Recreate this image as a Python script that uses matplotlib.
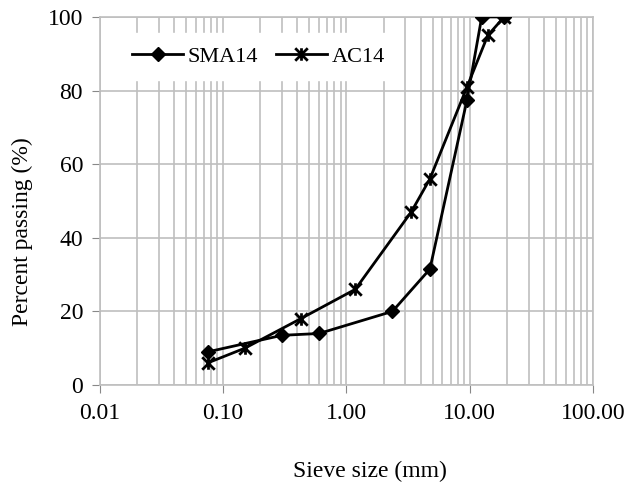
import matplotlib
matplotlib.use('Agg')
import matplotlib.pyplot as plt
from matplotlib.path import Path
from matplotlib.ticker import FixedLocator, FuncFormatter, NullFormatter

plt.rcParams['font.family'] = ['Liberation Serif', 'DejaVu Serif']

# sieve sizes (mm) and percent passing
sma_size = [0.075, 0.3, 0.6, 2.36, 4.75, 9.5, 12.5, 19]
sma_pass = [9, 13.5, 14, 20, 31.5, 77.5, 100, 100]
ac_size = [0.075, 0.15, 0.425, 1.18, 3.35, 4.75, 9.5, 14, 19]
ac_pass = [6, 10, 18, 26, 47, 56, 81, 95, 100]

x_ticks = [0.01, 0.1, 1, 10, 100]
y_ticks = [0, 20, 40, 60, 80, 100]

# excel style star: an x with a vertical bar through it
star = Path([(-1, -1), (1, 1), (-1, 1), (1, -1), (0, -1), (0, 1)],
            [Path.MOVETO, Path.LINETO, Path.MOVETO, Path.LINETO,
             Path.MOVETO, Path.LINETO])

fig = plt.figure(figsize=(6.31, 4.84), dpi=100)
ax = fig.add_axes([0.158, 0.2045, 0.782, 0.7605])

grid_c = '#bfbfbf'
ax.plot(sma_size, sma_pass, color='black', lw=2, marker='D', ms=7,
        label='SMA14', zorder=3)
ax.plot(ac_size, ac_pass, color='black', lw=2, marker=star, ms=9,
        mew=2, label='AC14', zorder=3)

ax.set_xscale('log')
ax.set_xlim(0.01, 100)
ax.set_ylim(0, 100)
ax.xaxis.set_major_locator(FixedLocator(x_ticks))
ax.xaxis.set_major_formatter(FuncFormatter(lambda v, p: '%.2f' % v))
minors = [m * 10 ** e for e in range(-2, 2) for m in range(2, 10)]
ax.xaxis.set_minor_locator(FixedLocator(minors))
ax.xaxis.set_minor_formatter(NullFormatter())
ax.set_yticks(y_ticks)

ax.grid(True, which='both', axis='x', color=grid_c, lw=1.2)
ax.grid(True, which='major', axis='y', color=grid_c, lw=1.2)
ax.set_axisbelow(True)

for s in ax.spines.values():
    s.set_color(grid_c)
    s.set_linewidth(1.2)
ax.tick_params(which='major', direction='out', length=6, color='#888888',
               labelsize=17, pad=7)
ax.tick_params(which='minor', length=0)
ax.tick_params(axis='y', pad=6)

ax.set_xlabel('Sieve size (mm)', fontsize=17)
ax.xaxis.set_label_coords(0.547, -0.205)
ax.set_ylabel('Percent passing (%)', fontsize=17)
ax.yaxis.set_label_coords(-0.136, 0.416)

leg = ax.legend(loc='upper left', bbox_to_anchor=(0.025, 0.975), ncol=2,
                frameon=True, fontsize=16, handlelength=2.3,
                columnspacing=0.8, handletextpad=0.2, borderpad=0.6,
                borderaxespad=0.3, fancybox=False)
leg.get_frame().set_edgecolor('white')
leg.get_frame().set_facecolor('white')
leg.get_frame().set_alpha(1)

fig.savefig('out.png', dpi=100)
